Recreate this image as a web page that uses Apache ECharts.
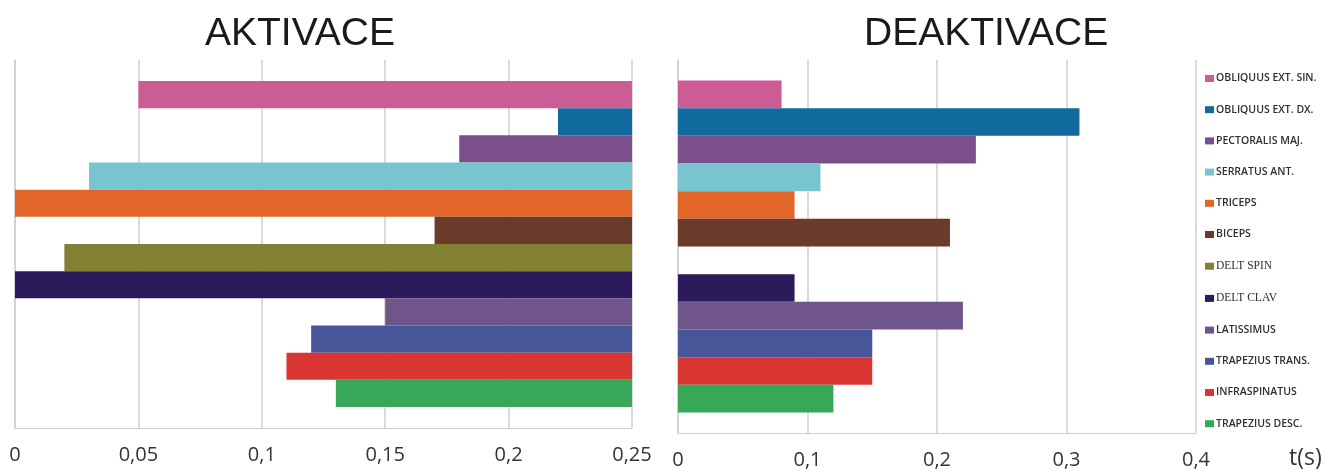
<!DOCTYPE html>
<html>
<head>
<meta charset="utf-8">
<script src="https://cdn.jsdelivr.net/npm/echarts@6/dist/echarts.min.js"></script>
<style>html,body{margin:0;padding:0;background:#fff;}#c{width:1325px;height:471px;}</style>
</head>
<body>
<div id="c"></div>
<script>
const muscles = ['OBLIQUUS EXT. SIN.','OBLIQUUS EXT. DX.','PECTORALIS MAJ.','SERRATUS ANT.','TRICEPS','BICEPS','DELT SPIN','DELT CLAV','LATISSIMUS','TRAPEZIUS TRANS.','INFRASPINATUS','TRAPEZIUS DESC.'];
const colors = ['#CC5C96','#116A9E','#7B4F8C','#78C5CF','#E2662A','#6A3A2A','#828033','#2B1B5A','#6F5589','#465699','#D93532','#37A857'];
// AKTIVACE: onset of each bar (bars run from onset to the end value)
const aktivaceStart = [0.05, 0.22, 0.18, 0.03, 0, 0.17, 0.02, 0, 0.15, 0.12, 0.11, 0.13];
const aktivaceEnd = 0.25;
// DEAKTIVACE durations
const deaktivace = [0.08, 0.31, 0.23, 0.11, 0.09, 0.21, 0, 0.09, 0.22, 0.15, 0.15, 0.12];
const aktTicks = {min: 0, max: 0.25, interval: 0.05};
const deaTicks = {min: 0, max: 0.4, interval: 0.1};
const serifNames = ['DELT SPIN', 'DELT CLAV'];

const chart = echarts.init(document.getElementById('c'), null, {renderer: 'canvas'});
const fmt = v => String(+v.toFixed(2)).replace('.', ',');
const series = [];
muscles.forEach((m, i) => {
  series.push({
    type: 'bar', name: '_base' + i, stack: 'a' + i, xAxisIndex: 0, yAxisIndex: 0,
    data: [aktivaceStart[i]], itemStyle: {color: 'rgba(0,0,0,0)'}, silent: true,
    barGap: 0, barCategoryGap: '11.4%'
  });
  series.push({
    type: 'bar', name: m, stack: 'a' + i, xAxisIndex: 0, yAxisIndex: 0,
    data: [aktivaceEnd - aktivaceStart[i]], itemStyle: {color: colors[i]},
    barGap: 0, barCategoryGap: '11.4%'
  });
});
muscles.forEach((m, i) => {
  series.push({
    type: 'bar', name: m, xAxisIndex: 1, yAxisIndex: 1,
    data: [deaktivace[i]], itemStyle: {color: colors[i]},
    barGap: 0, barCategoryGap: '11%'
  });
});

const axisLabel = {formatter: fmt, fontFamily: 'Open Sans', fontSize: 20, color: '#333', margin: 17};
chart.setOption({
  animation: false,
  backgroundColor: '#fff',
  title: [
    {text: 'AKTIVACE', left: 205, top: 15, padding: 0, textStyle: {fontFamily: 'Liberation Sans', fontSize: 39, fontWeight: 'normal', color: '#1a1a1a'}},
    {text: 'DEAKTIVACE', left: 864, top: 15, padding: 0, textStyle: {fontFamily: 'Liberation Sans', fontSize: 39, fontWeight: 'normal', color: '#1a1a1a'}}
  ],
  grid: [
    {left: 15, right: 1325 - 632, top: 60, bottom: 471 - 428},
    {left: 678, right: 1325 - 1196, top: 60, bottom: 471 - 433}
  ],
  xAxis: [
    Object.assign({type: 'value', gridIndex: 0, axisLine: {show: true, lineStyle: {color: '#cfcfcf'}}, axisTick: {show: false},
      splitLine: {lineStyle: {color: '#cfcfcf', width: 1.5}}, axisLabel: axisLabel}, aktTicks),
    Object.assign({type: 'value', gridIndex: 1, axisLine: {show: true, lineStyle: {color: '#cfcfcf'}}, axisTick: {show: false},
      splitLine: {lineStyle: {color: '#cfcfcf', width: 1.5}}, axisLabel: axisLabel}, deaTicks)
  ],
  yAxis: [
    {type: 'category', gridIndex: 0, data: [''], inverse: true, axisLine: {lineStyle: {color: '#cfcfcf', width: 1.5}}, axisTick: {show: false}, axisLabel: {show: false}},
    {type: 'category', gridIndex: 1, data: [''], inverse: true, axisLine: {lineStyle: {color: '#cfcfcf', width: 1.5}}, axisTick: {show: false}, axisLabel: {show: false}}
  ],
  legend: {
    orient: 'vertical', left: 1205, top: 73, padding: 0,
    data: muscles, itemWidth: 9, itemHeight: 7, itemGap: 20.2, icon: 'rect',
    selectedMode: false,
    formatter: n => serifNames.includes(n) ? '{s|' + n + '}' : n,
    textStyle: {fontFamily: 'Open Sans', fontSize: 10.5, fontWeight: 600, lineHeight: 10, color: '#2e2e2e', padding: [0,0,0,-3],
      rich: {s: {fontFamily: 'Liberation Serif', fontSize: 11.5, fontWeight: 'normal', lineHeight: 10, color: '#2e2e2e'}}}
  },
  graphic: [
    {type: 'text', left: 1289, top: 447, style: {text: 't(s)', fontFamily: 'Open Sans', fontSize: 23, fill: '#333'}}
  ],
  series: series
});
</script>
</body>
</html>
